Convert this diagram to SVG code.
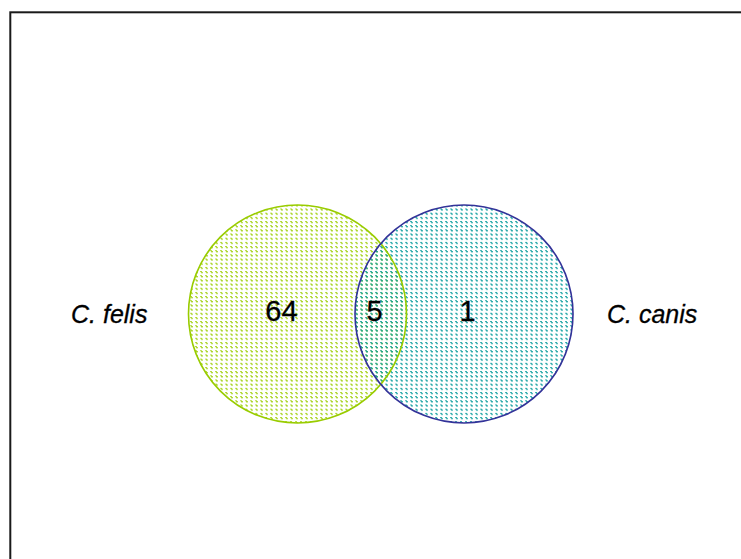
<svg xmlns="http://www.w3.org/2000/svg" width="741" height="559" viewBox="0 0 741 559">
  <style>
    .lbl { font-family: "Liberation Sans", Arial, sans-serif; font-style: italic; font-size: 25px; fill: #000; stroke: #000; stroke-width: 0.3; }
    .num { font-family: "Liberation Sans", Arial, sans-serif; font-size: 29px; fill: #000; stroke: #000; stroke-width: 0.3; text-anchor: middle; }
    .outline { fill: none; stroke-width: 1.6; }
  </style>
  <defs>
    <pattern id="pGreen" patternUnits="userSpaceOnUse" x="0" y="0" width="5" height="4.17">
      <rect x="0" y="0" width="2" height="1" fill="#b3d936"/>
      <rect x="1" y="1" width="2" height="1" fill="#99cc00"/>
    </pattern>
    <pattern id="pTeal" patternUnits="userSpaceOnUse" x="0" y="0" width="5" height="4.17">
      <rect x="0" y="0" width="2" height="1" fill="#33adad"/>
      <rect x="1" y="1" width="2" height="1" fill="#009999"/>
    </pattern>
  </defs>
  <rect x="0" y="0" width="741" height="559" fill="#fff"/>
  <rect x="10.3" y="12.3" width="760" height="600" fill="none" stroke="#1a1a1a" stroke-width="2"/>
  <g id="set-felis">
    <circle cx="297.5" cy="314" r="109" fill="url(#pGreen)"/>
  </g>
  <g id="set-canis">
    <circle cx="464" cy="314" r="109" fill="url(#pTeal)"/>
  </g>
  <g id="outlines">
    <circle class="outline" cx="297.5" cy="314" r="109" stroke="#99cc00"/>
    <circle class="outline" cx="464" cy="314" r="109" stroke="#333399"/>
  </g>
  <g id="labels">
    <text class="lbl" x="71" y="323">C. felis</text>
    <text class="lbl" x="607" y="323">C. canis</text>
    <text class="num" x="281.5" y="320.5">64</text>
    <text class="num" x="374.5" y="320.5">5</text>
    <text class="num" x="467.5" y="320.5">1</text>
  </g>
</svg>
